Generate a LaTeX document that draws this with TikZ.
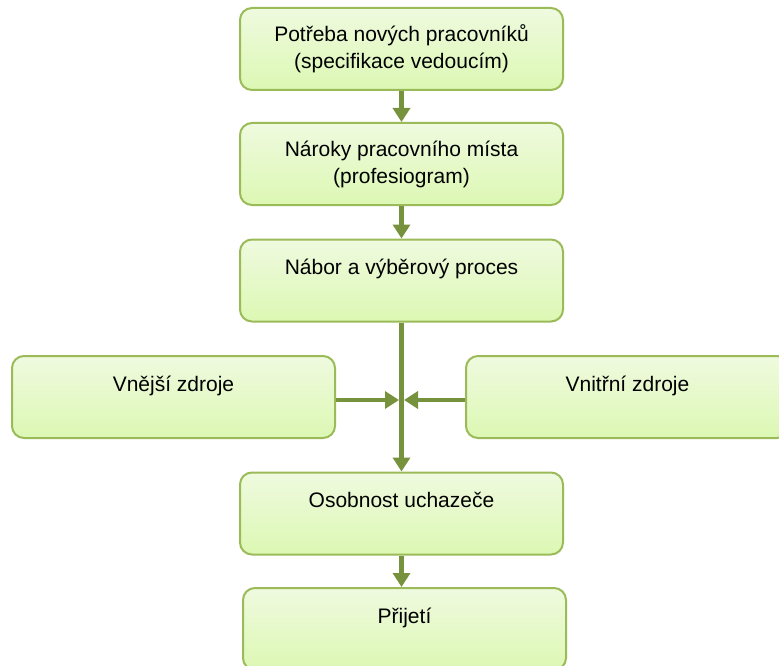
\documentclass[tikz,border=0pt]{standalone}
\usepackage{fontspec}
\setmainfont{Liberation Sans}
\usetikzlibrary{arrows.meta}
\definecolor{boxline}{HTML}{9BBB59}
\definecolor{boxtop}{HTML}{EFFADF}
\definecolor{boxbottom}{HTML}{DCF8B3}
\definecolor{arrowgreen}{HTML}{76923C}
\tikzset{
  stepbox/.style={draw=boxline, line width=2pt, rounded corners=12pt,
    top color=boxtop, bottom color=boxbottom,
    minimum width=323pt, minimum height=82pt, align=center,
    font=\fontsize{21}{27}\selectfont},
  flow/.style={draw=arrowgreen, line width=4.5pt,
    -{Triangle[length=14pt,width=17pt]}}
}
\begin{document}
\begin{tikzpicture}[x=1pt,y=-1pt]
    \useasboundingbox (0,0) rectangle (779,666);
    \clip (0,0) rectangle (779,666);
    % main column
    \node[stepbox] (need)   at (401.5,49)    {Potřeba nových pracovníků\\(specifikace vedoucím)};
    \node[stepbox] (claims) at (401.5,164)   {Nároky pracovního místa\\(profesiogram)};
    \node[stepbox] (hiring) at (401.5,280.5) {Nábor a výběrový proces\\\mbox{}};
    \node[stepbox] (person) at (401.5,513.5) {Osobnost uchazeče\\\mbox{}};
    \node[stepbox] (accept) at (404.5,629)   {Přijetí\\\mbox{}};
    % sources
    \node[stepbox] (outer)  at (173.5,397)   {Vnější zdroje\\\mbox{}};
    \node[stepbox] (inner)  at (627.5,397)   {Vnitřní zdroje\\\mbox{}};
    \coordinate (join) at (401.5,400);
    % arrows
    \draw[flow] (need) -- (claims);
    \draw[flow] (claims) -- (hiring);
    \draw[flow] (hiring) -- (person);
    \draw[flow] (person.south) -- (person.south |- accept.north);
    \draw[flow, shorten >=2.5pt] (outer.east |- join) -- (join);
    \draw[flow, shorten >=2.5pt] (inner.west |- join) -- (join);
\end{tikzpicture}
\end{document}
